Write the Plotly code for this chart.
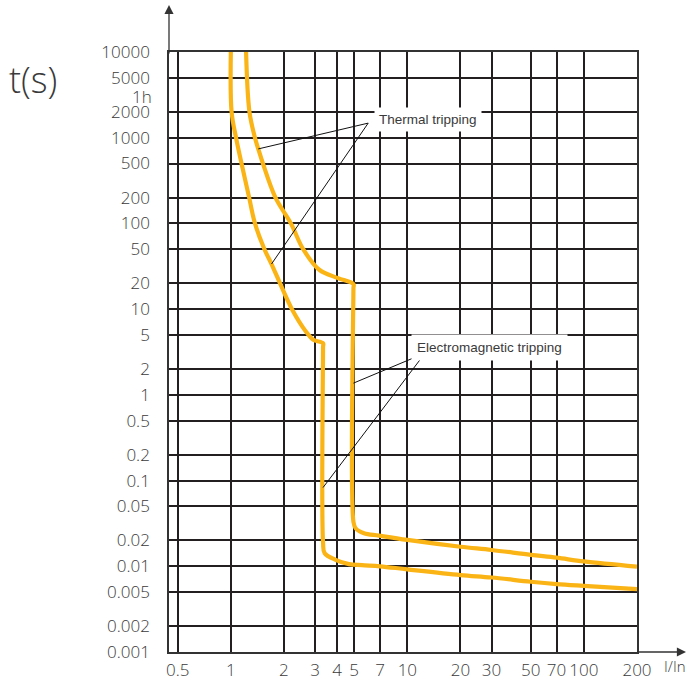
import math
import plotly.graph_objects as go

# Axis ticks: multiples of rated current (I/In) and tripping time in seconds
current_ticks = [0.5, 1, 2, 3, 4, 5, 7, 10, 20, 30, 50, 70, 100, 200]
current_labels = ["0.5", "1", "2", "3", "4", "5", "7", "10", "20", "30", "50", "70", "100", "200"]
time_ticks = [10000, 5000, 2000, 1000, 500, 200, 100, 50, 20, 10, 5, 2, 1,
              0.5, 0.2, 0.1, 0.05, 0.02, 0.01, 0.005, 0.002, 0.001]
time_labels = ["10000", "5000", "2000", "1000", "500", "200", "100", "50", "20", "10", "5", "2", "1",
               "0.5", "0.2", "0.1", "0.05", "0.02", "0.01", "0.005", "0.002", "0.001"]

# Lower limit of the tripping band
low_current = [1.00, 1.01, 1.07, 1.15, 1.27, 1.37, 1.55, 1.70, 1.90, 2.22, 2.66, 2.93, 3.33,
               3.33, 3.33, 3.40, 3.92, 4.67, 5.53, 7, 10, 20, 30, 50, 70, 100, 200]
low_time = [10000, 2000, 1000, 500, 200, 100, 50, 33.6, 20, 10, 5.5, 4.4, 4.0,
            3.6, 0.019, 0.0142, 0.0119, 0.0106, 0.0103, 0.0100, 0.0092, 0.0079, 0.0074, 0.0066, 0.0062,
            0.0059, 0.0054]

# Upper limit of the tripping band
high_current = [1.22, 1.275, 1.37, 1.43, 1.52, 1.79, 2.19, 2.57, 3.17, 4.05, 4.95,
                4.95, 4.95, 5.09, 5.68, 6.9, 10, 20, 30, 50, 70, 100, 200]
high_time = [10000, 2000, 1000, 740, 500, 200, 100, 50, 28.8, 23, 19.6,
             17.5, 0.033, 0.0278, 0.0243, 0.0228, 0.0203, 0.0169, 0.0155, 0.0136, 0.0126, 0.0114, 0.0099]

# Pointer lines from the captions to the curves: (I/In, t)
thermal_anchor = (6.0, 1480)
thermal_targets = [(1.43, 740), (1.70, 33.6)]
magnetic_anchor = (12.6, 3.07)
magnetic_targets = [(4.95, 1.37), (3.33, 0.083)]

CURVE = "#FBB416"
GRID = "#231f20"
TEXT = "#3a3a3a"
TICK_FONT = dict(family="Open Sans", size=17, color=TEXT, weight=300)

fig = go.Figure()

for xs, ys in ((low_current, low_time), (high_current, high_time)):
    fig.add_trace(go.Scatter(x=xs, y=ys, mode="lines",
                             line=dict(color=CURVE, width=4.2, shape="spline", smoothing=1.0),
                             hoverinfo="skip", showlegend=False))

px_, py_ = [], []
for anchor, targets in ((thermal_anchor, thermal_targets), (magnetic_anchor, magnetic_targets)):
    for tx, ty in targets:
        px_ += [anchor[0], tx, None]
        py_ += [anchor[1], ty, None]
fig.add_trace(go.Scatter(x=px_, y=py_, mode="lines", line=dict(color="#111", width=1),
                         hoverinfo="skip", showlegend=False))

caption_font = dict(family="Liberation Sans", size=13.5, color=TEXT)
annotations = [
    dict(text="Thermal tripping", xref="paper", yref="paper", x=0.553, y=0.8875,
         xanchor="center", yanchor="middle",
         showarrow=False, bgcolor="white", borderpad=4, font=caption_font),
    dict(text="Electromagnetic tripping", xref="paper", yref="paper", x=0.685, y=0.5067,
         xanchor="center", yanchor="middle",
         showarrow=False, bgcolor="white", borderpad=5, font=caption_font),
    dict(text="t(s)", xref="paper", yref="paper", x=-0.346, y=0.955, xanchor="left",
         yanchor="middle", showarrow=False,
         font=dict(family="Open Sans", size=36, color=TEXT, weight=300)),
    dict(text="1h", xref="paper", yref="y", x=-0.031, y=math.log10(3600), yshift=-6,
         xanchor="right", yanchor="middle", showarrow=False, font=TICK_FONT),
    dict(text="I/In", xref="paper", yref="paper", x=1.054, y=0, yshift=-14,
         xanchor="left", yanchor="middle", showarrow=False,
         font=dict(family="Open Sans", size=15, color=TEXT, weight=300)),
    # axis arrows
    dict(text="", xref="paper", yref="paper", x=1.1047, y=0, ax=-50, ay=0,
         showarrow=True, arrowhead=2, arrowsize=1.4, arrowwidth=1.3, arrowcolor="#333"),
    dict(text="", xref="paper", yref="paper", x=0, y=1.0783, ax=0, ay=50,
         showarrow=True, arrowhead=2, arrowsize=1.4, arrowwidth=1.3, arrowcolor="#333"),
]

fig.update_layout(
    width=687, height=680,
    margin=dict(l=169, r=50, t=52, b=28, autoexpand=False),
    paper_bgcolor="white", plot_bgcolor="white",
    annotations=annotations,
    xaxis=dict(type="log", range=[-0.3503, math.log10(200)], automargin=False,
               tickvals=current_ticks, ticktext=current_labels,
               showgrid=True, gridcolor=GRID, gridwidth=1.5,
               showline=True, linecolor="#333", linewidth=1.5, mirror=True,
               zeroline=False, ticks="", ticklabelstandoff=2, tickfont=TICK_FONT),
    yaxis=dict(type="log", range=[-3, 4], automargin=False,
               tickvals=time_ticks, ticktext=time_labels,
               showgrid=True, gridcolor=GRID, gridwidth=1.5,
               showline=True, linecolor="#333", linewidth=1.5, mirror=True,
               zeroline=False, ticks="", ticklabelstandoff=14, tickfont=TICK_FONT),
)

fig.write_html("out.html")
